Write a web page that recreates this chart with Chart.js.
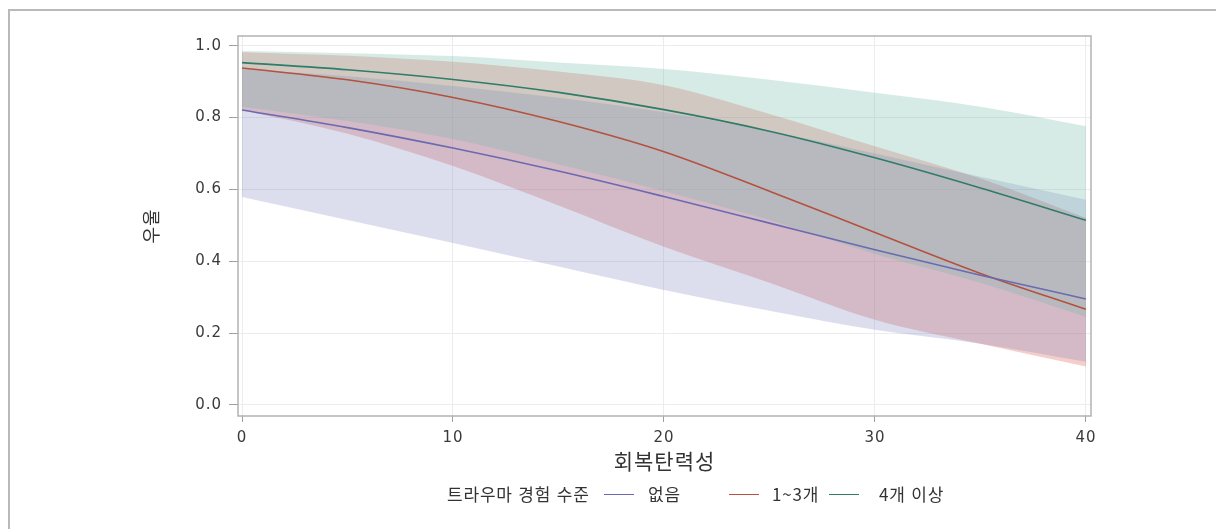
<!DOCTYPE html>
<html lang="ko">
<head>
<meta charset="utf-8">
<title>회복탄력성에 따른 우울 예측확률</title>
<script src="https://cdn.jsdelivr.net/npm/chart.js@4.4.1/dist/chart.umd.min.js"></script>
<style>
  html, body { margin: 0; padding: 0; background: #fff; }
  #wrap { position: relative; width: 1216px; height: 529px; overflow: hidden; }
  #frame { position: absolute; left: 8px; top: 9px; width: 1240px; height: 560px;
           border-top: 2px solid #b9b9b9; border-left: 2px solid #b9b9b9; pointer-events: none; }
  canvas { position: absolute; left: 0; top: 0; }
  #legend { position: absolute; left: 0; top: 483px; width: 1216px; height: 24px;
            font-family: "Noto Sans CJK KR", "Noto Sans", sans-serif; font-size: 17px;
            letter-spacing: 0.8px; color: #333; }
  #legend span { position: absolute; top: 0; line-height: 22px; white-space: nowrap; }
  #legend i { position: absolute; top: 11px; height: 0; border-top: 1.6px solid; }
</style>
</head>
<body>
<div id="wrap">
  <canvas id="c" width="1216" height="529"></canvas>
  <div id="frame"></div>
  <div id="legend"></div>
</div>
<script>
// 회복탄력성 (x) 값
const resilience = [0, 5, 10, 15, 20, 25, 30, 35, 40];

// 트라우마 경험 수준별 예측확률과 95% 신뢰구간
const noneFit   = [0.821, 0.772, 0.715, 0.651, 0.580, 0.506, 0.432, 0.361, 0.295];
const noneUpper = [0.935, 0.915, 0.888, 0.855, 0.815, 0.762, 0.700, 0.635, 0.571];
const noneLower = [0.579, 0.515, 0.451, 0.385, 0.320, 0.262, 0.209, 0.170, 0.120];

const midFit    = [0.938, 0.905, 0.856, 0.789, 0.705, 0.595, 0.480, 0.366, 0.266];
const midUpper  = [0.982, 0.972, 0.955, 0.928, 0.890, 0.810, 0.720, 0.630, 0.520];
const midLower  = [0.820, 0.755, 0.665, 0.555, 0.440, 0.340, 0.237, 0.170, 0.107];

const highFit   = [0.953, 0.933, 0.906, 0.870, 0.822, 0.762, 0.688, 0.604, 0.514];
const highUpper = [0.985, 0.979, 0.971, 0.953, 0.935, 0.905, 0.869, 0.830, 0.776];
const highLower = [0.830, 0.790, 0.740, 0.670, 0.595, 0.515, 0.420, 0.340, 0.245];

const seriesNames = ['없음', '1~3개', '4개 이상'];
const legendTitle = '트라우마 경험 수준';

const xTicks = [0, 10, 20, 30, 40];
const yTicks = [0.0, 0.2, 0.4, 0.6, 0.8, 1.0];

// 색상
const lineColors = ['#6a6ab0', '#b4513f', '#2f7c68'];
const bandColors = ['rgba(118,128,190,0.26)', 'rgba(222,92,84,0.30)', 'rgba(112,184,164,0.28)'];

const toPoints = arr => arr.map((v, i) => ({ x: resilience[i], y: v }));

function bandPair(upper, lower, color) {
  return [
    { data: toPoints(upper), fill: '+1', backgroundColor: color, borderWidth: 0,
      pointRadius: 0, order: 2, cubicInterpolationMode: 'monotone' },
    { data: toPoints(lower), fill: false, borderWidth: 0, pointRadius: 0,
      order: 2, cubicInterpolationMode: 'monotone' }
  ];
}

const fits = [noneFit, midFit, highFit];
const lineSets = fits.map((f, i) => ({
  label: seriesNames[i], data: toPoints(f), borderColor: lineColors[i], borderWidth: 1.6,
  fill: false, pointRadius: 0, order: 0, cubicInterpolationMode: 'monotone'
}));

const datasets = [
  ...lineSets,
  ...bandPair(highUpper, highLower, bandColors[2]),
  ...bandPair(noneUpper, noneLower, bandColors[0]),
  ...bandPair(midUpper, midLower, bandColors[1])
];

// 그림 영역 외곽선과 눈금 글자 간격
const plotFrame = {
  id: 'plotFrame',
  beforeDraw(chart) {
    chart.ctx.letterSpacing = '1px';
  },
  afterDraw(chart) {
    const { ctx, chartArea: a } = chart;
    ctx.save();
    ctx.strokeStyle = '#b2b2b2';
    ctx.lineWidth = 1.5;
    ctx.strokeRect(a.left, a.top, a.right - a.left, a.bottom - a.top);
    ctx.restore();
  }
};

const tickFont = { family: 'DejaVu Sans', size: 15 };

new Chart(document.getElementById('c'), {
  type: 'line',
  data: { datasets },
  plugins: [plotFrame],
  options: {
    responsive: false,
    animation: false,
    events: [],
    layout: { padding: { left: 136, top: 36, right: 125, bottom: 52 } },
    plugins: { legend: { display: false }, tooltip: { enabled: false } },
    scales: {
      x: {
        type: 'linear', min: -0.19, max: 40.24,
        afterBuildTicks: s => { s.ticks = xTicks.map(v => ({ value: v })); },
        afterFit: s => { s.height = 61; },
        grid: { color: '#ececee', tickColor: '#a0a0a0', tickLength: 6, lineWidth: 1 },
        border: { display: false },
        ticks: { font: tickFont, color: '#3a3a3a', padding: 7, maxRotation: 0 },
        title: { display: true, text: '회복탄력성',
                 font: { family: 'Noto Sans CJK KR', size: 21 }, color: '#333', padding: 3 }
      },
      y: {
        type: 'linear', min: -0.031, max: 1.027,
        afterBuildTicks: s => { s.ticks = yTicks.map(v => ({ value: v })); },
        afterFit: s => { s.width = 102; },
        grid: { color: '#ececee', tickColor: '#a0a0a0', tickLength: 9, lineWidth: 1 },
        border: { display: false },
        ticks: { font: tickFont, color: '#3a3a3a', padding: 7,
                 callback: v => Number(v).toFixed(1) },
        title: { display: true, text: '우울',
                 font: { family: 'Noto Sans CJK KR', size: 18 }, color: '#333', padding: 4 }
      }
    }
  }
});

// 범례
const legendLayout = { title: 447, items: [[604, 648], [729, 772], [829, 879]], swatch: 30 };
const legend = document.getElementById('legend');
const t = document.createElement('span');
t.textContent = legendTitle;
t.style.left = legendLayout.title + 'px';
legend.appendChild(t);
seriesNames.forEach((name, i) => {
  const [sx, tx] = legendLayout.items[i];
  const sw = document.createElement('i');
  sw.style.left = sx + 'px';
  sw.style.width = legendLayout.swatch + 'px';
  sw.style.borderTopColor = lineColors[i];
  legend.appendChild(sw);
  const s = document.createElement('span');
  s.textContent = name;
  s.style.left = tx + 'px';
  legend.appendChild(s);
});
</script>
</body>
</html>
